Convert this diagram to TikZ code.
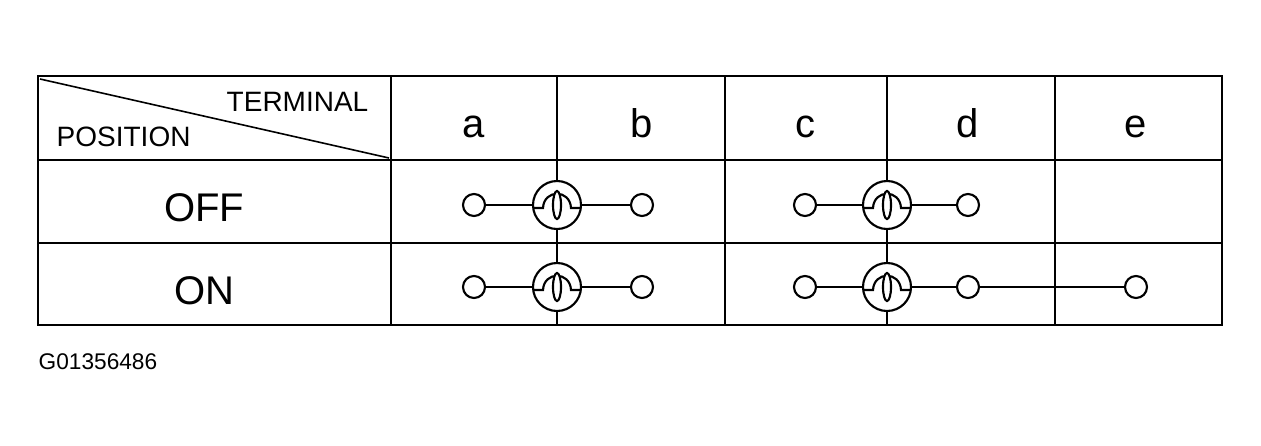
\documentclass[tikz,border=0pt]{standalone}
\usepackage{fontspec}
\setmainfont{Liberation Sans}
\usepackage{tikz}

\tikzset{
	term/.style={circle,draw,line width=1.6,minimum size=16.5pt,inner sep=0,fill=white},
	grid/.style={line width=2.2},
	wire/.style={line width=1.6},
	big/.style={anchor=base,font=\fontsize{30}{30}\selectfont}
}
\newcommand{\bulb}[2]{%
	\filldraw [wire,fill=white] (#1,#2) circle (24);
	\draw [wire] (#1-24,#2+3) -- (#1-14,#2+3) .. controls (#1-13,#2-16) and (#1+13,#2-16) .. (#1+14,#2+3) -- (#1+24,#2+3);
	\draw [wire,fill=white] (#1,#2) ellipse (4 and 14);
}

\begin{document}
\begin{tikzpicture}[x=0.75pt,y=-0.75pt]
	\useasboundingbox (0,0) rectangle (1261,446);
	% Table %
	\draw [grid] (38,76) rectangle (1222,325);
	\draw [grid] (38,160) -- (1222,160);
	\draw [grid] (38,243) -- (1222,243);
	\foreach \x in {391, 557, 725, 887, 1055}
		{\draw [grid] (\x,76) -- (\x,325);}
	\draw [line width=1.2] (40,79) -- (389,158);
	% Headings %
	\node (terminal) [anchor=base east,font=\fontsize{21}{21}\selectfont] at (373,111) {TERMINAL};
	\node (position) [anchor=base west,font=\fontsize{21}{21}\selectfont] at (52,146) {POSITION};
	\node (off) [big] at (204,221) {OFF};
	\node (on) [big] at (204,304) {ON};
	\foreach \l/\x in {a/474, b/642, c/805, d/968, e/1136}
		{\node (head\l) [big] at (\x,137) {\l};}
	% OFF row %
	\node (offa) [term] at (474,205) {};
	\node (offb) [term] at (642,205) {};
	\node (offc) [term] at (805,205) {};
	\node (offd) [term] at (968,205) {};
	\draw [wire] (offa) -- (offb);
	\draw [wire] (offc) -- (offd);
	\bulb{557}{205}
	\bulb{887}{205}
	% ON row %
	\node (ona) [term] at (474,287) {};
	\node (onb) [term] at (642,287) {};
	\node (onc) [term] at (805,287) {};
	\node (ond) [term] at (968,287) {};
	\node (one) [term] at (1136,287) {};
	\draw [wire] (ona) -- (onb);
	\draw [wire] (onc) -- (ond);
	\draw [wire] (ond) -- (one);
	\bulb{557}{287}
	\bulb{887}{287}
	% Figure number %
	\node (fignum) [anchor=base west,font=\fontsize{17}{17}\selectfont] at (34,369) {G01356486};
\end{tikzpicture}
\end{document}
